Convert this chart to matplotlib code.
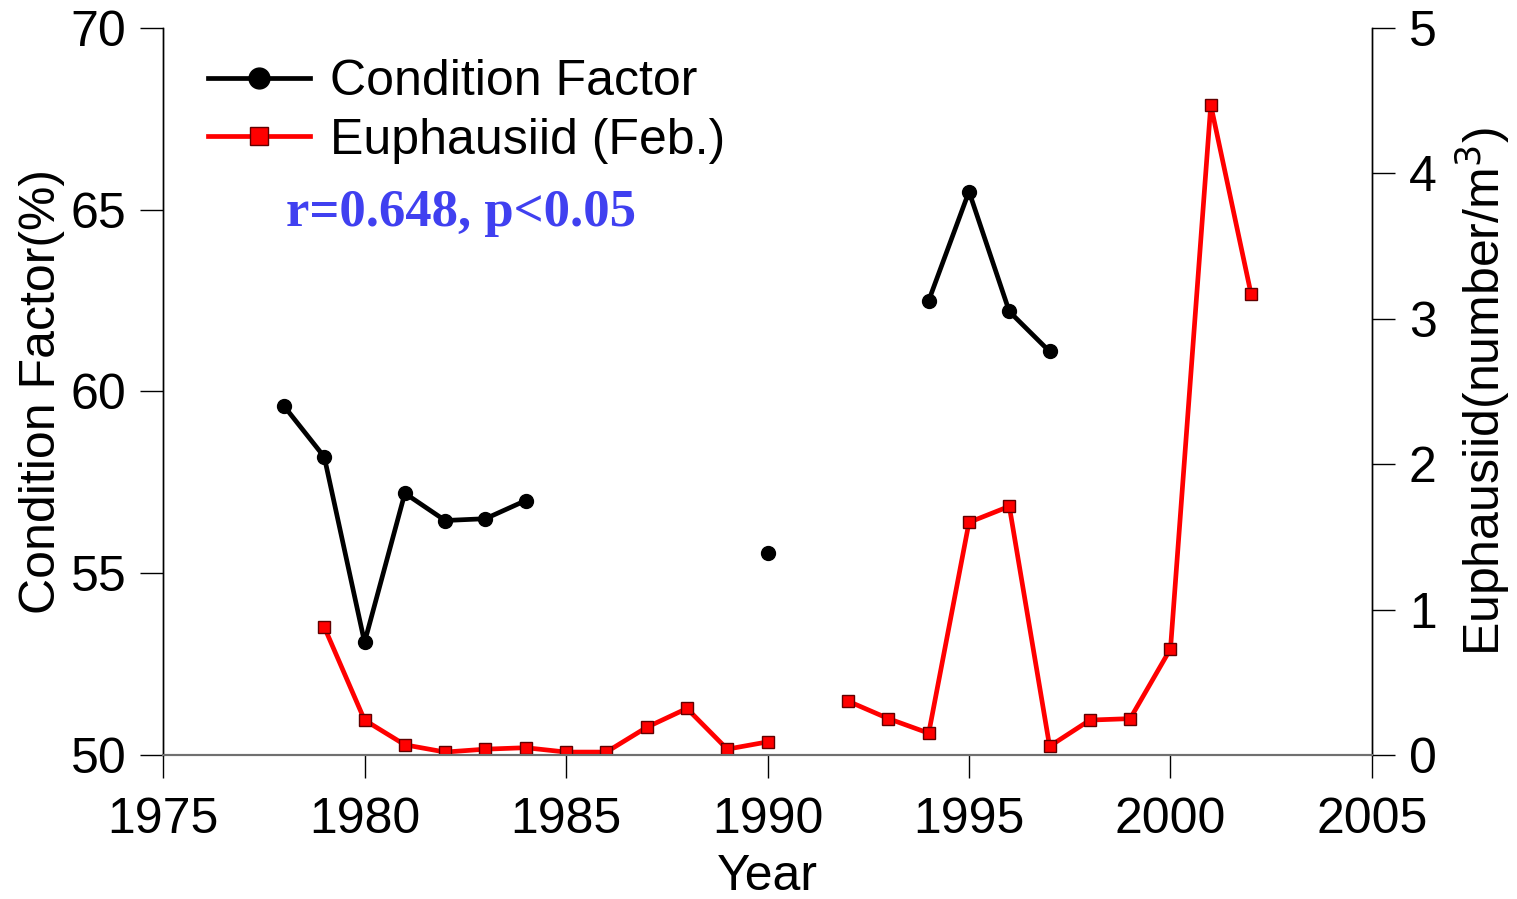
import numpy as np
import matplotlib
matplotlib.use("Agg")
import matplotlib.pyplot as plt

plt.rcParams['font.family'] = ['Liberation Sans', 'DejaVu Sans']

# data (nan = no sample)
years = np.arange(1978, 2003)
condition = [59.6, 58.2, 53.1, 57.2, 56.45, 56.5, 57.0, np.nan, np.nan, np.nan, np.nan, np.nan,
             55.55, np.nan, np.nan, np.nan, 62.5, 65.5, 62.2, 61.1, np.nan, np.nan, np.nan, np.nan, np.nan]
euphausiid = [np.nan, 0.88, 0.24, 0.07, 0.02, 0.04, 0.05, 0.02, 0.02, 0.19, 0.32, 0.04,
              0.09, np.nan, 0.37, 0.25, 0.15, 1.6, 1.71, 0.06, 0.24, 0.25, 0.73, 4.47, 3.17]

fs = 36

fig = plt.figure(figsize=(15.17, 8.99), dpi=100)
ax = fig.add_axes([0.1075, 0.1602, 0.7969, 0.8087])
ax2 = ax.twinx()

l1, = ax.plot(years, condition, color='black', lw=3.4, marker='o', ms=10,
              label='Condition Factor', zorder=3)
l2, = ax2.plot(years, euphausiid, color='red', lw=3.4, marker='s', ms=9,
               mfc='red', mec='#600000', mew=1, label='Euphausiid (Feb.)')

ax.set_xlim(1975, 2005)
ax.set_ylim(50, 70)
ax2.set_ylim(0, 5)
ax.set_xticks(np.arange(1975, 2006, 5))
ax.set_yticks(np.arange(50, 71, 5))
ax2.set_yticks(np.arange(0, 6, 1))

for a in (ax, ax2):
    a.spines['top'].set_visible(False)
    a.spines['left'].set_linewidth(1)
    a.spines['right'].set_linewidth(1)
    a.spines['bottom'].set_color('#707070')
    a.spines['bottom'].set_linewidth(1.5)
    a.tick_params(direction='out', length=16.5, width=1, labelsize=fs, pad=10)
ax.tick_params(axis='x', pad=14)
ax.yaxis.get_major_ticks()[0].tick1line.set_color('#707070')
ax2.yaxis.get_major_ticks()[0].tick2line.set_color('#707070')

ax.set_xlabel('Year', fontsize=fs, labelpad=8)
ax.set_ylabel('Condition Factor(%)', fontsize=fs, labelpad=4)
ax2.set_ylabel('Euphausiid(number/m$^3$)', fontsize=fs, labelpad=12)

ax.legend(handles=[l1, l2], loc='upper left', bbox_to_anchor=(0.008, 1.005),
          frameon=False, fontsize=fs, handlelength=2.05, handletextpad=0.4,
          labelspacing=0.25, borderaxespad=0.3, markerscale=1.5)

ax.text(1982.4, 64.9, 'r=0.648, p<0.05', fontsize=38, fontweight='bold',
        family='Liberation Serif', color='#4040F0', ha='center', va='center')

fig.savefig('out.png', dpi=100)
